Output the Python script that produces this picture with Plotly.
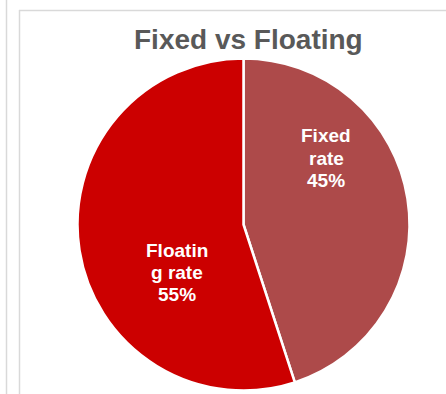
import plotly.graph_objects as go

labels = ["Fixed rate", "Floating rate"]
values = [45, 55]
colors = ["#AD4A4A", "#CC0000"]
label_lines = [["Fixed", "rate", "45%"], ["Floatin", "g rate", "55%"]]

W, H = 446, 394
cx, cy, r = 243.5, 224.5, 166

fig = go.Figure(go.Pie(
    labels=labels, values=values, sort=False, direction="clockwise", rotation=0,
    marker=dict(colors=colors, line=dict(color="white", width=2.5)),
    textinfo="none", hoverinfo="label+percent", showlegend=False,
    domain=dict(x=[(cx - r) / W, (cx + r) / W], y=[(H - cy - r) / H, (H - cy + r) / H]),
))

# label block positions (pixel centers of each block's first line), line spacing
blocks = [(326, 136), (177, 250)]
spacing = 22
annotations = []
for (bx, by), lines in zip(blocks, label_lines):
    for i, t in enumerate(lines):
        annotations.append(dict(
            text=f"<b>{t}</b>", x=bx / W, y=1 - (by + i * spacing) / H,
            xref="paper", yref="paper", showarrow=False,
            xanchor="center", yanchor="middle",
            font=dict(family="Liberation Sans, Arial", size=19, color="white"),
        ))
annotations.append(dict(
    text="<b>Fixed vs Floating</b>", x=248 / W, y=1 - 40 / H, xref="paper", yref="paper",
    showarrow=False, xanchor="center", yanchor="middle",
    font=dict(family="Liberation Sans, Arial", size=28, color="#595959"),
))

border = "#D9D9D9"
shapes = [
    dict(type="line", xref="paper", yref="paper", x0=6.5 / W, x1=6.5 / W, y0=0, y1=1,
         line=dict(color=border, width=1.5)),
    dict(type="line", xref="paper", yref="paper", x0=19.5 / W, x1=19.5 / W, y0=0, y1=1 - 10 / H,
         line=dict(color=border, width=1.5)),
    dict(type="line", xref="paper", yref="paper", x0=19 / W, x1=1, y0=1 - 10.5 / H, y1=1 - 10.5 / H,
         line=dict(color=border, width=1.5)),
]

fig.update_layout(
    width=W, height=H, margin=dict(l=0, r=0, t=0, b=0),
    paper_bgcolor="white", plot_bgcolor="white",
    annotations=annotations, shapes=shapes,
)
fig.write_html("out.html")
